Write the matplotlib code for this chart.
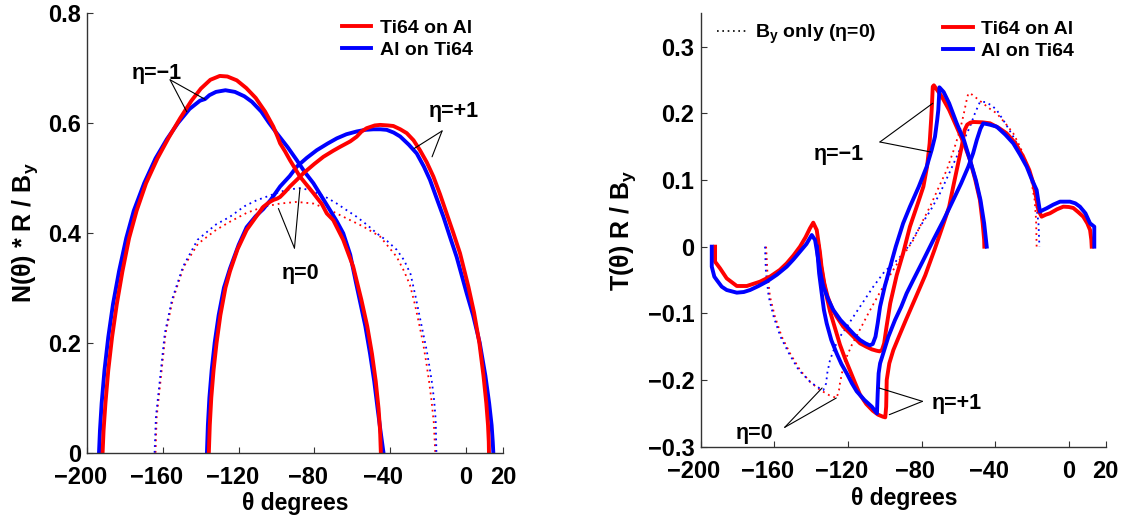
import matplotlib
matplotlib.use("Agg")
import matplotlib.pyplot as plt
from matplotlib.lines import Line2D
from matplotlib.transforms import ScaledTranslation

plt.rcParams['font.family'] = ['Liberation Sans', 'DejaVu Sans']
plt.rcParams['font.weight'] = 'bold'
plt.rcParams['axes.unicode_minus'] = True

RED = '#ff0000'
BLUE = '#0000ff'

# ---------------- LEFT PANEL: N(theta) * R / B_y ----------------
th_N_m1_ti = [-192.0, -191.5, -190.5, -189.0, -187.0, -184.5, -181.5, -178.0, -174.0, -169.0, -163.0, -157.0,
              -151.0, -145.0, -140.0, -135.0, -130.0, -126.0, -121.0, -116.0, -111.0, -106.0, -101.7, -99.5,
              -98.1, -95.5, -92.9, -87.6, -80.5, -76.0, -73.4, -70.0, -64.7, -59.4, -55.1, -52.0, -49.5, -47.5,
              -46.0, -45.2, -44.8]
N_m1_ti = [0.0, 0.04, 0.09, 0.15, 0.21, 0.27, 0.33, 0.39, 0.44, 0.49, 0.535, 0.573, 0.608, 0.64, 0.662, 0.678,
           0.685, 0.684, 0.677, 0.663, 0.645, 0.62, 0.593, 0.575, 0.5625, 0.548, 0.532, 0.502, 0.472, 0.452, 0.435,
           0.423, 0.387, 0.338, 0.278, 0.23, 0.18, 0.13, 0.08, 0.04, 0.0]

th_N_m1_al = [-193.9, -193.4, -192.5, -191.0, -189.0, -186.5, -183.3, -179.5, -175.5, -170.0, -164.0, -158.0,
              -152.0, -146.0, -140.5, -137.8, -135.5, -132.0, -127.0, -122.0, -117.0, -113.0, -108.0, -104.0,
              -99.9, -94.0, -89.3, -85.0, -80.5, -76.0, -71.7, -68.0, -64.7, -61.0, -58.0, -55.5, -53.0, -50.5,
              -48.3, -46.5, -45.0, -44.0, -43.4]
N_m1_al = [0.0, 0.04, 0.09, 0.15, 0.21, 0.27, 0.33, 0.39, 0.44, 0.49, 0.535, 0.57, 0.6, 0.625, 0.64, 0.643, 0.65,
           0.656, 0.659, 0.656, 0.648, 0.638, 0.62, 0.6, 0.581, 0.555, 0.532, 0.51, 0.49, 0.465, 0.441, 0.42, 0.399,
           0.36, 0.31, 0.27, 0.23, 0.18, 0.13, 0.08, 0.04, 0.015, 0.0]

th_N_p1_ti = [-135.8, -135.3, -134.5, -133.3, -131.7, -129.7, -127.0, -124.6, -120.6, -115.8, -111.0, -107.0,
              -104.0, -101.7, -99.6, -98.1, -95.5, -92.9, -89.0, -85.8, -80.0, -75.2, -70.0, -66.4, -61.0, -57.6,
              -55.0, -52.3, -48.0, -45.2, -41.0, -38.2, -34.5, -31.1, -27.5, -24.1, -20.5, -17.0, -13.5, -10.0,
              -6.5, -2.9, 1.5, 4.5, 7.3, 9.5, 11.0, 11.9, 12.3, 12.4]
N_p1_ti = [0.0, 0.05, 0.1, 0.15, 0.2, 0.25, 0.3, 0.33, 0.37, 0.405, 0.428, 0.447, 0.455, 0.4595, 0.462, 0.465,
           0.474, 0.484, 0.497, 0.508, 0.525, 0.538, 0.549, 0.556, 0.566, 0.5745, 0.584, 0.59, 0.595, 0.596, 0.595,
           0.594, 0.588, 0.581, 0.568, 0.55, 0.528, 0.502, 0.47, 0.435, 0.4, 0.3625, 0.302, 0.255, 0.2, 0.14, 0.09,
           0.05, 0.02, 0.0]

th_N_p1_al = [-136.8, -136.3, -135.5, -134.3, -132.7, -130.6, -127.8, -124.6, -120.0, -115.8, -111.0, -107.0,
              -103.0, -98.1, -93.0, -89.3, -84.0, -78.7, -73.0, -68.1, -63.0, -57.6, -53.0, -48.8, -45.0, -41.7,
              -38.0, -34.6, -30.0, -25.8, -22.0, -18.8, -15.0, -11.7, -8.0, -4.7, 0.6, 4.0, 7.5, 10.5, 12.5, 13.8,
              14.4, 14.7]
N_p1_al = [0.0, 0.05, 0.1, 0.15, 0.2, 0.25, 0.3, 0.335, 0.378, 0.41, 0.43, 0.443, 0.46, 0.484, 0.503, 0.52, 0.536,
           0.55, 0.562, 0.5715, 0.579, 0.584, 0.587, 0.588, 0.588, 0.587, 0.582, 0.575, 0.56, 0.544, 0.52, 0.496,
           0.46, 0.429, 0.39, 0.356, 0.29, 0.25, 0.2, 0.14, 0.09, 0.05, 0.02, 0.0]

th_N_0_ti = [-164.0, -163.4, -161.5, -158.7, -154.9, -149.1, -141.5, -132.0, -124.6, -115.8, -107.0, -98.1, -89.3,
             -80.5, -71.7, -62.9, -54.0, -45.2, -36.4, -32.5, -29.4, -26.8, -24.6, -22.5, -20.8, -19.3, -18.0,
             -16.8, -16.0]
N_0_ti = [0.0, 0.065, 0.126, 0.217, 0.278, 0.338, 0.38, 0.405, 0.42, 0.436, 0.447, 0.453, 0.456, 0.453, 0.441,
          0.426, 0.411, 0.393, 0.356, 0.33, 0.305, 0.27, 0.235, 0.2, 0.165, 0.13, 0.095, 0.055, 0.0]

th_N_0_al = [-164.5, -163.8, -161.9, -159.1, -155.3, -149.5, -141.8, -132.0, -124.6, -117.0, -110.5, -104.0,
             -98.1, -92.5, -87.6, -83.0, -78.7, -73.0, -68.1, -62.5, -57.6, -52.0, -47.0, -41.5, -36.4, -32.5,
             -29.1, -26.5, -24.4, -22.3, -20.6, -19.0, -17.7, -16.6, -15.8, -15.4]
N_0_al = [0.0, 0.065, 0.126, 0.217, 0.278, 0.338, 0.387, 0.415, 0.429, 0.448, 0.459, 0.467, 0.4745, 0.479, 0.481,
          0.478, 0.472, 0.463, 0.453, 0.44, 0.429, 0.414, 0.399, 0.385, 0.369, 0.35, 0.325, 0.285, 0.25, 0.215,
          0.187, 0.155, 0.126, 0.095, 0.06, 0.0]

# ---------------- RIGHT PANEL: T(theta) R / B_y ----------------
th_T_m1_ti = [-192.1, -192.1, -189.4, -185.8, -180.3, -174.9, -167.7, -162.3, -157.0, -153.2, -149.5, -146.0,
              -143.0, -140.6, -138.8, -136.9, -135.1, -134.3, -132.8, -131.0, -128.5, -126.1, -122.5, -118.8,
              -113.4, -110.0, -107.0, -104.5, -102.8, -101.5, -100.3, -99.0, -97.0, -93.5, -90.0, -86.3, -82.0,
              -79.0, -77.0, -75.6, -74.8, -74.3, -73.9, -73.3, -72.3, -69.0, -65.0, -61.0, -57.0, -53.7, -50.8,
              -48.3, -46.8, -46.0, -45.9]
T_m1_ti = [0.0, -0.0225, -0.0325, -0.0475, -0.059, -0.059, -0.0525, -0.045, -0.035, -0.025, -0.013, 0.0, 0.014,
           0.0275, 0.036, 0.025, -0.01, -0.03, -0.055, -0.075, -0.093, -0.105, -0.12, -0.13, -0.145, -0.15, -0.154,
           -0.156, -0.157, -0.155, -0.145, -0.12, -0.085, -0.043, -0.01, 0.03, 0.065, 0.09, 0.12, 0.155, 0.19,
           0.215, 0.24, 0.242, 0.238, 0.225, 0.205, 0.18, 0.155, 0.13, 0.1, 0.07, 0.035, 0.01, 0.0]

th_T_m1_al = [-193.9, -193.9, -192.5, -191.2, -188.5, -185.8, -180.3, -176.5, -173.1, -168.5, -164.1, -158.5,
              -153.2, -149.5, -146.0, -142.5, -139.6, -137.8, -136.0, -134.5, -133.3, -130.5, -127.9, -124.0,
              -120.6, -116.5, -113.4, -110.5, -108.1, -106.5, -105.0, -103.8, -102.5, -100.0, -97.0, -94.0, -90.0,
              -86.3, -81.5, -77.2, -74.5, -72.7, -71.5, -70.9, -70.5, -70.3, -68.0, -65.0, -60.9, -57.0, -53.7,
              -50.5, -48.0, -46.0, -45.0, -44.6]
T_m1_al = [0.0, -0.03, -0.045, -0.05, -0.06, -0.065, -0.069, -0.068, -0.065, -0.059, -0.0525, -0.042, -0.03,
           -0.019, -0.0075, 0.004, 0.0175, 0.01, -0.02, -0.045, -0.06, -0.08, -0.095, -0.11, -0.12, -0.132, -0.14,
           -0.145, -0.148, -0.146, -0.135, -0.115, -0.09, -0.06, -0.03, 0.0, 0.035, 0.06, 0.09, 0.12, 0.145, 0.165,
           0.19, 0.205, 0.225, 0.239, 0.232, 0.215, 0.185, 0.16, 0.13, 0.1, 0.07, 0.035, 0.01, 0.0]

th_T_p1_ti = [-135.8, -134.5, -133.3, -131.5, -129.7, -127.0, -124.3, -121.5, -118.8, -116.0, -113.4, -110.0,
              -106.5, -103.6, -101.0, -99.7, -99.2, -98.9, -97.5, -95.3, -92.0, -88.5, -83.0, -78.0, -73.0, -68.0,
              -65.0, -62.8, -60.5, -58.2, -56.6, -55.2, -53.5, -51.9, -47.0, -42.8, -38.0, -33.8, -29.0, -24.8,
              -21.5, -19.3, -17.5, -16.6, -14.8, -12.5, -10.3, -6.5, -3.0, 0.0, 2.4, 5.0, 7.8, 10.0, 11.5, 12.2,
              12.4]
T_p1_ti = [0.0, -0.03, -0.05, -0.075, -0.097, -0.122, -0.147, -0.168, -0.186, -0.205, -0.222, -0.236, -0.246,
           -0.252, -0.255, -0.256, -0.24, -0.2, -0.175, -0.155, -0.133, -0.11, -0.075, -0.043, -0.005, 0.035, 0.06,
           0.09, 0.12, 0.15, 0.175, 0.183, 0.186, 0.187, 0.1865, 0.185, 0.178, 0.17, 0.155, 0.135, 0.115, 0.095,
           0.07, 0.055, 0.045, 0.048, 0.05, 0.056, 0.06, 0.0595, 0.058, 0.052, 0.045, 0.035, 0.025, 0.01, 0.0]

th_T_p1_al = [-136.8, -135.6, -134.2, -133.0, -131.5, -129.0, -126.1, -123.5, -120.6, -117.8, -115.2, -111.0,
              -107.0, -104.2, -103.8, -103.3, -102.5, -100.8, -98.0, -94.4, -91.0, -88.1, -84.5, -79.0, -73.6,
              -68.0, -62.8, -58.5, -54.6, -52.0, -50.0, -48.0, -46.5, -43.0, -39.2, -34.5, -30.2, -26.5, -22.9,
              -20.0, -17.5, -16.4, -15.7, -14.0, -12.1, -8.5, -4.8, 0.6, 3.5, 6.0, 9.0, 11.5, 13.8, 13.8]
T_p1_al = [0.0, -0.04, -0.07, -0.095, -0.115, -0.14, -0.16, -0.176, -0.19, -0.205, -0.217, -0.23, -0.24, -0.25,
           -0.22, -0.19, -0.175, -0.16, -0.135, -0.11, -0.09, -0.07, -0.05, -0.02, 0.01, 0.04, 0.07, 0.095, 0.12,
           0.14, 0.16, 0.177, 0.185, 0.183, 0.18, 0.168, 0.155, 0.138, 0.12, 0.1, 0.085, 0.065, 0.0525, 0.055,
           0.0575, 0.063, 0.0675, 0.0675, 0.065, 0.06, 0.05, 0.035, 0.03, 0.0]

th_T_0_ti = [-164.4, -163.7, -162.3, -159.6, -155.9, -151.4, -146.0, -140.5, -135.0, -130.0, -126.1, -124.8,
             -124.3, -122.5, -120.6, -117.8, -114.5, -108.5, -102.5, -96.5, -91.5, -88.0, -84.5, -80.0, -75.4,
             -70.5, -66.3, -62.5, -59.1, -57.0, -55.5, -54.6, -52.5, -48.0, -43.0, -39.2, -34.5, -30.2, -26.5,
             -22.9, -20.5, -18.6, -17.8, -17.5]
T_0_ti = [0.0, -0.0375, -0.075, -0.105, -0.135, -0.16, -0.185, -0.203, -0.215, -0.223, -0.227, -0.215, -0.205,
          -0.18, -0.165, -0.147, -0.13, -0.098, -0.068, -0.04, -0.018, -0.005, 0.01, 0.035, 0.06, 0.09, 0.115,
          0.145, 0.175, 0.2, 0.22, 0.23, 0.228, 0.218, 0.207, 0.2, 0.185, 0.17, 0.15, 0.125, 0.1, 0.07, 0.04, 0.0]

th_T_0_al = [-165.0, -164.5, -163.0, -160.3, -156.6, -152.0, -146.7, -140.0, -135.0, -133.3, -131.8, -131.2,
             -129.7, -127.0, -124.3, -120.5, -117.0, -111.0, -106.2, -100.0, -95.0, -90.5, -86.0, -80.8, -75.0,
             -70.0, -65.0, -60.9, -57.0, -53.7, -51.0, -48.3, -45.5, -42.0, -39.2, -34.5, -30.2, -26.5, -22.9,
             -20.0, -18.0, -16.5, -16.0]
T_0_al = [0.0, -0.0375, -0.075, -0.105, -0.135, -0.16, -0.185, -0.204, -0.213, -0.215, -0.205, -0.19, -0.17,
          -0.15, -0.135, -0.12, -0.105, -0.08, -0.06, -0.037, -0.025, -0.012, 0.005, 0.03, 0.055, 0.08, 0.11,
          0.135, 0.16, 0.18, 0.2, 0.217, 0.217, 0.212, 0.205, 0.185, 0.165, 0.145, 0.125, 0.1, 0.07, 0.035, 0.0]

# ---------------- ticks, labels, legends, annotations ----------------
xticks = [-200, -160, -120, -80, -40, 0, 20]
xticklabels = ['\u2212200', '\u2212160', '\u2212120', '\u221280', '\u221240', '0', '20']
yticks_L = [0, 0.2, 0.4, 0.6, 0.8]
yticklabels_L = ['0', '0.2', '0.4', '0.6', '0.8']
yticks_R = [-0.3, -0.2, -0.1, 0, 0.1, 0.2, 0.3]
yticklabels_R = ['\u22120.3', '\u22120.2', '\u22120.1', '0', '0.1', '0.2', '0.3']
legend_labels = ['Ti64 on Al', 'Al on Ti64']
dotted_label = 'B$_\\mathregular{y}$ only (\u03b7=0)'

# (text, text position, line origin, line targets)
annot_L = [('\u03b7=\u22121', (-163.5, 0.69), (-156.3, 0.678), [(-147.5, 0.62), (-137.8, 0.6425)]),
           ('\u03b7=+1', (-6.3, 0.62), (-12.4, 0.585), [(-27.2, 0.553), (-17.7, 0.538)]),
           ('\u03b7=0', (-87.3, 0.326), (-90.5, 0.372), [(-99.0, 0.444), (-87.6, 0.481)])]
annot_R = [('\u03b7=\u22121', (-124.6, 0.1375), (-102.6, 0.157), [(-73.9, 0.215), (-75.0, 0.142)]),
           ('\u03b7=+1', (-60.7, -0.235), (-79.5, -0.232), [(-103.0, -0.212), (-97.5, -0.252)]),
           ('\u03b7=0', (-170.5, -0.28), (-154.3, -0.271), [(-134.0, -0.212), (-126.3, -0.227)])]

LW = 2.8
DOT = (0, (1.0, 2.2))
TICK_FS = 17
LEG_FS = 14

fig = plt.figure(figsize=(11.23, 5.2), dpi=100)
axL = fig.add_axes([0.0779, 0.1294, 0.3703, 0.8462])
axR = fig.add_axes([0.6238, 0.1410, 0.3608, 0.8334])


def style_axis(ax, yt, ytl, ylim):
    ax.set_xlim(-200, 20)
    ax.set_ylim(*ylim)
    for s in ('top', 'right'):
        ax.spines[s].set_visible(False)
    for s in ('left', 'bottom'):
        ax.spines[s].set_color('#333333')
        ax.spines[s].set_linewidth(1.0)
    ax.set_xticks(xticks)
    ax.set_xticklabels(xticklabels)
    ax.set_yticks(yt)
    ax.set_yticklabels(ytl)
    ax.tick_params(direction='in', length=4, width=0.8, colors='#333333', labelcolor='black',
                   labelsize=TICK_FS)
    ax.tick_params(axis='x', pad=9.5)
    ax.tick_params(axis='y', pad=4.5)
    for lab in ax.get_xticklabels() + ax.get_yticklabels():
        lab.set_fontweight('bold')
    # MATLAB centres the digits of negative tick labels, so the minus hangs to the left
    shift = ScaledTranslation(-6.5 / 100, 0, fig.dpi_scale_trans)
    for lab in ax.get_xticklabels():
        if lab.get_text().startswith('\u2212'):
            lab.set_transform(lab.get_transform() + shift)


# Left panel
axL.plot(th_N_0_ti, N_0_ti, color=RED, lw=1.3, ls=DOT)
axL.plot(th_N_0_al, N_0_al, color=BLUE, lw=1.3, ls=DOT)
axL.plot(th_N_m1_al, N_m1_al, color=BLUE, lw=LW)
axL.plot(th_N_p1_al, N_p1_al, color=BLUE, lw=LW)
axL.plot(th_N_m1_ti, N_m1_ti, color=RED, lw=LW)
axL.plot(th_N_p1_ti, N_p1_ti, color=RED, lw=LW)
style_axis(axL, yticks_L, yticklabels_L, (0, 0.8))

# Right panel
axR.plot(th_T_0_ti, T_0_ti, color=RED, lw=1.3, ls=DOT)
axR.plot(th_T_0_al, T_0_al, color=BLUE, lw=1.3, ls=DOT)
axR.plot(th_T_m1_ti, T_m1_ti, color=RED, lw=LW)
axR.plot(th_T_p1_ti, T_p1_ti, color=RED, lw=LW)
axR.plot(th_T_m1_al, T_m1_al, color=BLUE, lw=LW)
axR.plot(th_T_p1_al, T_p1_al, color=BLUE, lw=LW)
style_axis(axR, yticks_R, yticklabels_R, (-0.3, 0.35))

# axis labels
axL.set_xlabel('\u03b8 degrees', fontsize=16.5, fontweight='bold', va='center')
axL.xaxis.set_label_coords(0.499, -0.115)
axR.set_xlabel('\u03b8 degrees', fontsize=16.5, fontweight='bold', va='center')
axR.xaxis.set_label_coords(0.502, -0.12)
axL.set_ylabel('N(\u03b8) * R / B$_\\mathregular{y}$', fontsize=18, fontweight='bold', va='center')
axL.yaxis.set_label_coords(-0.150, 0.5)
axR.set_ylabel('T(\u03b8) R / B$_\\mathregular{y}$', fontsize=18, fontweight='bold', va='center')
axR.yaxis.set_label_coords(-0.191, 0.5)

# legends
handles = [Line2D([], [], color=RED, lw=LW), Line2D([], [], color=BLUE, lw=LW)]
legprops = dict(frameon=False, borderpad=0, borderaxespad=0, handlelength=1.5, handletextpad=0.45,
                labelspacing=0.25, prop={'weight': 'bold', 'size': LEG_FS})
axL.legend(handles, legend_labels, loc='upper left', bbox_to_anchor=(342 / 1123, 1 - 19 / 520),
           bbox_transform=fig.transFigure, **legprops)
legR2 = axR.legend([Line2D([], [], color='black', lw=1.2, ls=DOT)], [dotted_label], loc='upper left',
                   bbox_to_anchor=(716.6 / 1123, 1 - 23 / 520), bbox_transform=fig.transFigure,
                   frameon=False, borderpad=0, borderaxespad=0, handlelength=1.55, handletextpad=0.45,
                   prop={'weight': 'bold', 'size': LEG_FS})
axR.add_artist(legR2)
axR.legend(handles, legend_labels, loc='upper left', bbox_to_anchor=(943.4 / 1123, 1 - 20 / 520),
           bbox_transform=fig.transFigure, **legprops)

# annotations
for ax, annots in ((axL, annot_L), (axR, annot_R)):
    for txt, tpos, origin, targets in annots:
        ax.text(tpos[0], tpos[1], txt, fontsize=15.5, fontweight='bold', ha='center', va='center')
        for tgt in targets:
            ax.annotate('', xy=tgt, xytext=origin,
                        arrowprops=dict(arrowstyle='-', lw=0.8, color='black', shrinkA=0, shrinkB=0))

fig.savefig('out.png', dpi=100)
